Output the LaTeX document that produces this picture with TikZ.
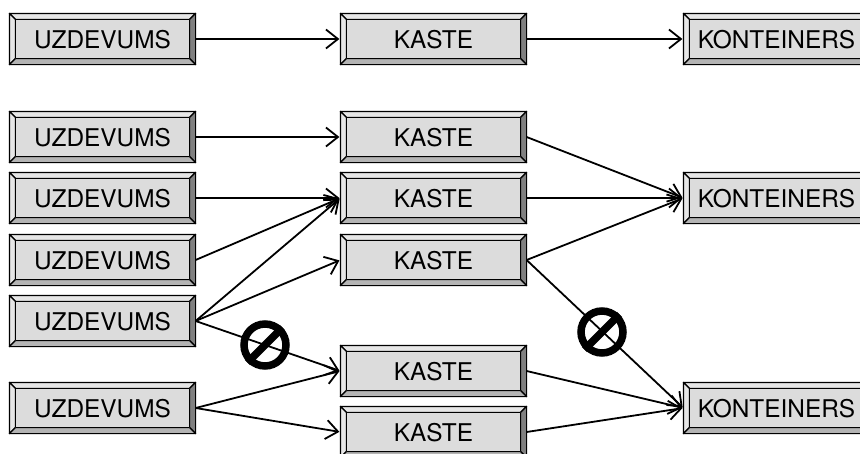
\documentclass[tikz,border=0pt]{standalone}
\usepackage{fontspec}
\setmainfont{TeX Gyre Heros}
\usetikzlibrary{arrows.meta}
\definecolor{faceg}{HTML}{DCDCDC}
\definecolor{lightg}{HTML}{E6E6E6}
\definecolor{midg}{HTML}{B4B4B4}
\definecolor{darkg}{HTML}{808080}
\tikzset{x=1pt,y=-1pt,
  key/.style={draw=black,line width=1.2pt,fill=faceg,minimum width=185pt,minimum height=50pt,inner sep=0pt},
  keytext/.style={font=\fontsize{24.4pt}{26pt}\selectfont,inner sep=0pt,yshift=-1pt},
  link/.style={draw=black,line width=1.8pt,-{Straight Barb[length=12pt,width=19pt,line width=1.8pt]},shorten >=1pt},
  bev/.style={draw=black,line width=1.2pt,line join=round},
  ban/.style={circle,draw=black,line width=7.5pt,minimum size=42pt,inner sep=0pt},
  banbar/.style={line width=7.5pt}}
\newcommand{\bevelkey}[3]{%
  \node[key] (#1) at #2 {};
  \path (#1.north west) coordinate (a) (#1.north east) coordinate (b) (#1.south east) coordinate (c) (#1.south west) coordinate (d);
  \path ([shift={(6pt,-6pt)}]#1.north west) coordinate (e) ([shift={(-6pt,-6pt)}]#1.north east) coordinate (f) ([shift={(-6pt,6pt)}]#1.south east) coordinate (g) ([shift={(6pt,6pt)}]#1.south west) coordinate (h);
  \draw[bev,fill=lightg] (a)--(b)--(f)--(e)--cycle;
  \draw[bev,fill=lightg] (a)--(e)--(h)--(d)--cycle;
  \draw[bev,fill=darkg] (b)--(c)--(g)--(f)--cycle;
  \draw[bev,fill=midg] (d)--(c)--(g)--(h)--cycle;
  \draw[bev,fill=faceg] (e)--(f)--(g)--(h)--cycle;
  \node[keytext] (#1t) at #2 {#3};
}
\begin{document}
\begin{tikzpicture}
\useasboundingbox (0,0) rectangle (860,453);
\bevelkey{u1}{(102.5,39)}{UZDEVUMS}
\bevelkey{k1}{(433.5,39)}{KASTE}
\bevelkey{c1}{(776.5,39)}{KONTEINERS}
\bevelkey{u2}{(102.5,137)}{UZDEVUMS}
\bevelkey{u3}{(102.5,198)}{UZDEVUMS}
\bevelkey{u4}{(102.5,260)}{UZDEVUMS}
\bevelkey{u5}{(102.5,321)}{UZDEVUMS}
\bevelkey{u6}{(102.5,408)}{UZDEVUMS}
\bevelkey{k2}{(433.5,137)}{KASTE}
\bevelkey{k3}{(433.5,198)}{KASTE}
\bevelkey{k4}{(433.5,260)}{KASTE}
\bevelkey{k5}{(433.5,371)}{KASTE}
\bevelkey{k6}{(433.5,432)}{KASTE}
\bevelkey{c2}{(776.5,198)}{KONTEINERS}
\bevelkey{c3}{(776.5,408)}{KONTEINERS}
\foreach \s/\t in {u1/k1,k1/c1,u2/k2,u3/k3,u4/k3,u5/k3,u5/k4,u5/k5,u6/k5,u6/k6,k2/c2,k3/c2,k4/c2,k4/c3,k5/c3,k6/c3}
  \draw[link] (\s.east) -- (\t.west);
\node[ban] (b1) at (265,345) {};
\node[ban] (b2) at (602,332) {};
\draw[banbar] (b1.south west) -- (b1.north east);
\draw[banbar] (b2.south west) -- (b2.north east);
\end{tikzpicture}
\end{document}
